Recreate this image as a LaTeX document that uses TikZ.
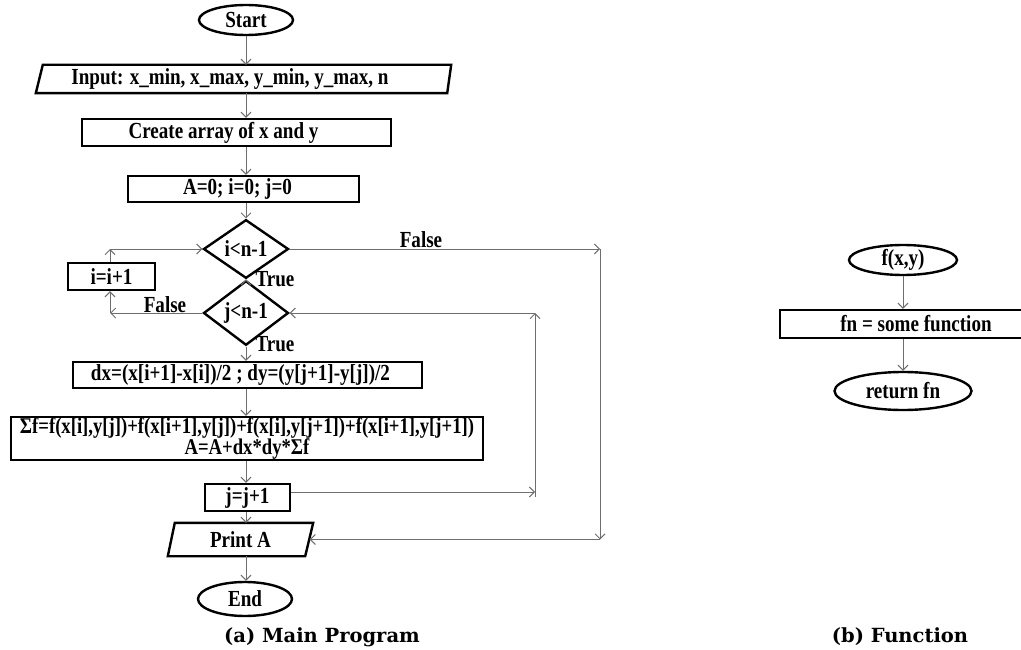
\documentclass[tikz,border=0pt]{standalone}
\usepackage{fontspec}
\setmainfont{Liberation Serif}
\newfontfamily\flowfont[FakeStretch=0.83]{Liberation Serif}
\newfontfamily\capfont{DejaVu Serif}
\usetikzlibrary{shapes.geometric,arrows.meta}
\definecolor{linegray}{HTML}{6E6E6E}
\begin{document}
\begin{tikzpicture}[x=1pt,y=-1pt,
  every node/.style={font=\flowfont\bfseries\fontsize{23}{21}\selectfont, inner sep=0pt},
  box/.style={draw=black, line width=2.4pt, rectangle},
  term/.style={draw=black, line width=2.4pt, ellipse},
  dec/.style={draw=black, line width=2.4pt, diamond},
  outline/.style={draw=black, line width=2.4pt},
  conn/.style={draw=linegray, line width=1pt, -{Straight Barb[length=5pt,width=10pt]}},
  captext/.style={font=\capfont\bfseries\fontsize{19.5}{20}\selectfont}
]
\useasboundingbox (0,0) rectangle (1021,650);
\clip (0,0) rectangle (1021,650);

% ---------- (a) main program ----------
\node[term, minimum width=94, minimum height=30] (start) at (246,20) {Start};
\node[minimum width=415, minimum height=28] (input) at (243.5,79) {Input: x\_min, x\_max, y\_min, y\_max, n\kern27pt};
\draw[outline] ([xshift=7]input.north west) -- (input.north east) -- ([xshift=-4]input.south east) -- (input.south west) -- cycle;
\node[box, minimum width=309, minimum height=27] (create) at (236.5,132.5) {Create array of x and y\kern26pt};
\node[box, minimum width=231, minimum height=26] (init) at (243.5,189) {A=0; i=0; j=0\kern12pt};
\node[dec, minimum width=85, minimum height=38] (icond) at (246,249) {i<n-1};
\node[dec, minimum width=85, minimum height=41] (jcond) at (246,313) {j<n-1};
\node[box, minimum width=87, minimum height=27] (iinc) at (111.5,276.5) {i=i+1};
\node[box, minimum width=349, minimum height=26] (dx) at (247.5,375) {dx=(x[i+1]-x[i])/2 ; dy=(y[j+1]-y[j])/2\kern14pt};
\node[box, minimum width=472, minimum height=43, align=center, font=\flowfont\bfseries\fontsize{22.5}{21}\selectfont] (sf) at (247,438.5)
  {Σf=f(x[i],y[j])+f(x[i+1],y[j])+f(x[i],y[j+1])+f(x[i+1],y[j+1])\\A=A+dx*dy*Σf};
\node[box, minimum width=85, minimum height=27] (jinc) at (247.5,497.5) {j=j+1};
\node[minimum width=145, minimum height=33] (print) at (240.5,539.5) {Print A};
\draw[outline] ([xshift=7]print.north west) -- (print.north east) -- ([xshift=-8]print.south east) -- (print.south west) -- cycle;
\node[term, minimum width=94, minimum height=34] (end) at (245,599) {End};

\node (true1) at (275,279) {True};
\node (true2) at (275,344) {True};
\node (false1) at (421,240) {False};
\node (false2) at (165,305) {False};

\coordinate (col) at (246,0);
\draw[conn] (start.south) -- (col |- input.north);
\draw[conn] (col |- input.south) -- (col |- create.north);
\draw[conn] (col |- create.south) -- (col |- init.north);
\draw[conn] (col |- init.south) -- (icond.north);
\draw[conn] (icond.south) -- (jcond.north);
\draw[conn] (jcond.south) -- (col |- dx.north);
\draw[conn] (col |- dx.south) -- (col |- sf.north);
\draw[conn] (col |- sf.south) -- (col |- jinc.north);
\draw[conn] (col |- jinc.south) -- (col |- print.north);
\draw[conn] (col |- print.south) -- (col |- end.north);

% j loop back
\coordinate (jr) at (535,492);
\coordinate (jb) at (535,497);
\coordinate (jt) at (535,313);
\draw[conn] (jinc.east |- jr) -- (jr);
\draw[conn] (jb) -- (jt);
\draw[conn] (jt) -- (jcond.east);

% i false -> print
\coordinate (ir) at (600,249);
\coordinate (pr) at (600,539.5);
\draw[conn] (icond.east) -- (ir);
\draw[conn] (ir) -- (pr);
\draw[conn] (pr) -- ([xshift=-3.5]print.east);

% j false -> i=i+1 -> i cond
\coordinate (jl) at (110,313);
\coordinate (il) at (110,249);
\draw[conn] (jcond.west) -- (jl);
\draw[conn] (jl) -- (jl |- iinc.south);
\draw[conn] (il |- iinc.north) -- (il);
\draw[conn] (il) -- (icond.west);

\node[captext] (capa) at (322,637) {(a) Main Program};

% ---------- (b) function ----------
\node[term, minimum width=108, minimum height=30] (fxy) at (903,260) {f(x,y)};
\node[box, minimum width=272, minimum height=28] (fn) at (916,324) {fn = some function};
\node[term, minimum width=137, minimum height=38] (ret) at (903,391) {return fn};
\draw[conn] (fxy.south) -- (fxy.south |- fn.north);
\draw[conn] (fxy.south |- fn.south) -- (ret.north);

\node[captext] (capb) at (900,637) {(b) Function};
\end{tikzpicture}
\end{document}
